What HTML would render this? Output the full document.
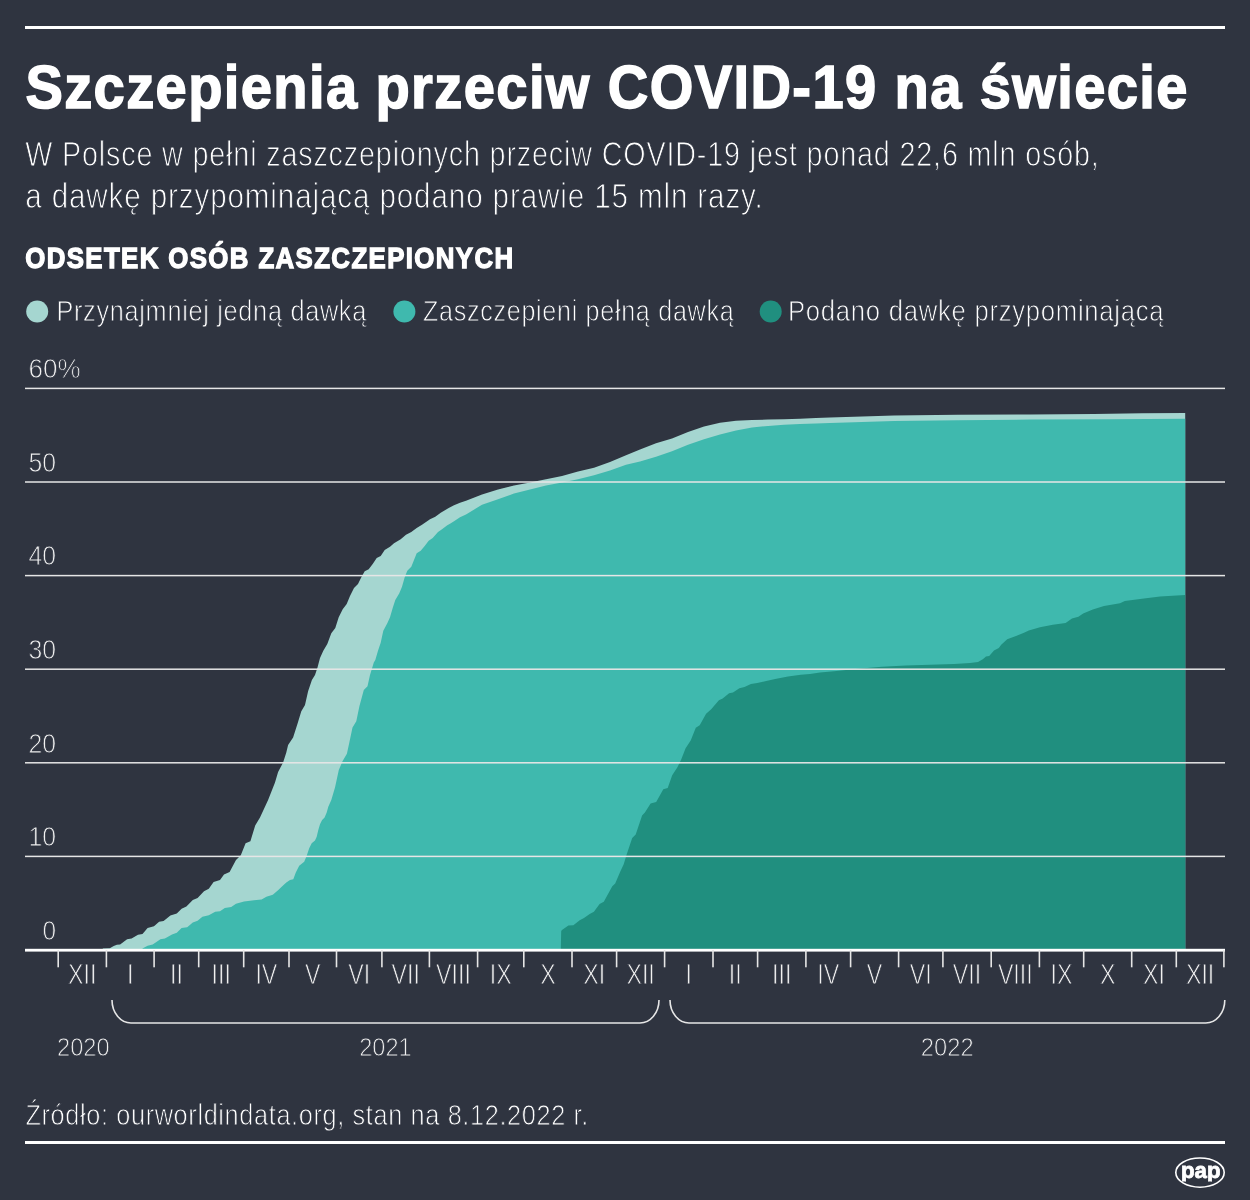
<!DOCTYPE html>
<html lang="pl">
<head>
<meta charset="utf-8">
<title>Szczepienia przeciw COVID-19 na świecie</title>
<style>
html,body{margin:0;padding:0;background:#2f3440;}
body{width:1250px;height:1200px;overflow:hidden;position:relative;}
svg{position:absolute;left:0;top:0;display:block;will-change:transform;}
text{font-family:'Liberation Sans', 'DejaVu Sans', sans-serif;}
.lt{stroke:#2f3440;stroke-width:1.0px;paint-order:normal;}
.ax{stroke-width:0.85px;}
</style>
</head>
<body>
<svg width="1250" height="1200" viewBox="0 0 1250 1200">
<rect width="1250" height="1200" fill="#2f3440"/>
<rect x="25" y="26" width="1200" height="3" fill="#ffffff"/>
<rect x="25" y="1141" width="1200" height="3" fill="#ffffff"/>
<text x="25.4" y="108.0" font-size="61.5" font-weight="bold" text-anchor="start" fill="#ffffff" textLength="1163.5" lengthAdjust="spacingAndGlyphs" stroke="#ffffff" stroke-width="1.5" letter-spacing="1.5">Szczepienia przeciw COVID-19 na świecie</text>
<text x="25.2" y="166.4" font-size="34.6" font-weight="normal" text-anchor="start" fill="#ffffff" textLength="1074.5" lengthAdjust="spacingAndGlyphs" class="lt" letter-spacing="1">W Polsce w pełni zaszczepionych przeciw COVID-19 jest ponad 22,6 mln osób,</text>
<text x="25.2" y="208.4" font-size="34.6" font-weight="normal" text-anchor="start" fill="#ffffff" textLength="738.5" lengthAdjust="spacingAndGlyphs" class="lt" letter-spacing="1">a dawkę przypominającą podano prawie 15 mln razy.</text>
<text x="25.2" y="268.2" font-size="29.5" font-weight="bold" text-anchor="start" fill="#ffffff" textLength="489.3" lengthAdjust="spacingAndGlyphs" stroke="#ffffff" stroke-width="1.3" letter-spacing="1.6">ODSETEK OSÓB ZASZCZEPIONYCH</text>
<circle cx="37.2" cy="311.5" r="11" fill="#a5d6d0"/>
<circle cx="404.4" cy="311.5" r="11" fill="#3fb9ae"/>
<circle cx="770.7" cy="311.5" r="11" fill="#208f7f"/>
<text x="56.4" y="321.3" font-size="29.0" font-weight="normal" text-anchor="start" fill="#ffffff" textLength="310.6" lengthAdjust="spacingAndGlyphs" class="lt ax" letter-spacing="0.8">Przynajmniej jedną dawką</text>
<text x="423.0" y="321.3" font-size="29.0" font-weight="normal" text-anchor="start" fill="#ffffff" textLength="311.3" lengthAdjust="spacingAndGlyphs" class="lt ax" letter-spacing="0.8">Zaszczepieni pełną dawką</text>
<text x="788.0" y="321.3" font-size="29.0" font-weight="normal" text-anchor="start" fill="#ffffff" textLength="376.3" lengthAdjust="spacingAndGlyphs" class="lt ax" letter-spacing="0.8">Podano dawkę przypominającą</text>
<path d="M102.8 950.0 L102.8 948.6 L109.8 948.3 L113.7 946.0 L116.9 944.8 L120.1 944.6 L127.1 939.3 L131.6 938.4 L138.0 934.8 L142.5 933.9 L147.6 928.1 L154.0 926.2 L159.1 921.7 L163.6 920.9 L170.4 915.5 L176.8 913.6 L181.6 908.8 L186.4 906.4 L192.8 900.0 L197.6 897.9 L204.0 891.2 L208.8 888.8 L213.6 881.9 L220.0 880.0 L224.0 874.4 L229.6 872.0 L236.0 860.0 L240.8 855.2 L245.6 843.2 L250.4 841.3 L255.2 825.6 L260.0 817.6 L268.1 800.0 L275.0 782.5 L278.1 771.9 L283.1 762.5 L286.3 752.5 L288.1 745.0 L293.1 737.5 L297.5 723.8 L301.3 711.3 L305.0 705.0 L308.1 691.3 L311.9 680.0 L315.0 675.0 L317.5 667.5 L320.0 658.0 L323.3 650.7 L327.3 644.0 L331.3 633.3 L335.3 628.0 L338.7 617.3 L342.7 609.3 L346.7 604.0 L350.0 596.0 L354.0 588.0 L358.0 584.0 L361.3 577.3 L364.7 571.3 L368.7 569.3 L372.7 564.0 L376.7 558.0 L380.7 556.0 L384.7 550.0 L390.0 546.7 L394.0 543.3 L400.7 539.3 L406.0 534.7 L411.3 532.0 L416.7 528.0 L422.0 524.7 L430.0 519.3 L435.3 516.7 L440.7 512.7 L448.7 508.0 L454.0 505.3 L460.0 502.7 L466.0 500.8 L482.0 494.4 L498.0 489.6 L514.0 485.6 L530.0 482.4 L546.0 479.2 L562.0 476.0 L578.0 471.5 L594.0 467.7 L610.0 461.9 L626.0 455.2 L640.0 449.6 L656.0 443.2 L672.0 438.4 L688.0 432.0 L704.0 426.4 L720.0 422.7 L736.0 420.8 L752.0 420.0 L768.0 419.5 L784.0 419.2 L800.0 418.7 L816.0 417.9 L830.0 417.4 L894.0 415.5 L958.0 414.8 L1030.0 414.4 L1094.0 413.9 L1142.0 413.2 L1185.2 412.9 L1185.2 950.0 Z" fill="#a5d6d0"/>
<path d="M142.5 950.0 L142.5 948.6 L147.6 945.7 L152.7 944.6 L160.4 939.3 L164.9 938.4 L172.0 934.4 L176.8 932.8 L181.6 928.0 L187.2 927.2 L192.8 922.4 L197.6 920.8 L202.4 916.8 L208.8 915.2 L215.2 911.7 L220.0 911.2 L224.8 908.0 L231.2 906.9 L236.0 903.7 L244.0 901.6 L252.0 900.5 L261.6 899.5 L266.4 896.8 L272.8 894.7 L278.3 890.0 L281.7 886.7 L286.3 882.5 L290.0 880.0 L293.3 879.2 L295.8 872.5 L299.2 865.8 L301.7 863.8 L304.2 861.7 L306.7 855.8 L309.2 848.3 L311.7 843.3 L315.0 840.4 L316.7 836.7 L318.3 830.0 L320.0 824.2 L322.1 820.0 L324.6 817.5 L326.7 812.5 L328.3 806.7 L331.3 800.0 L335.0 787.5 L338.8 770.0 L342.5 761.3 L346.9 753.8 L348.8 745.0 L352.5 727.5 L356.3 721.3 L359.4 706.3 L363.8 690.0 L367.5 686.3 L370.0 675.0 L373.8 662.5 L375.3 660.0 L378.0 650.7 L380.7 642.7 L383.3 630.7 L387.3 623.3 L390.0 617.3 L392.7 608.0 L395.3 600.0 L399.3 593.3 L402.0 586.7 L404.7 577.3 L407.3 570.7 L411.3 566.7 L414.0 560.0 L416.7 553.3 L420.7 550.7 L424.7 546.0 L428.7 540.7 L432.7 538.0 L438.0 532.0 L442.0 529.3 L447.3 525.3 L450.0 523.7 L454.0 521.3 L460.0 517.3 L466.0 514.4 L482.0 504.8 L498.0 499.2 L514.0 493.6 L530.0 489.6 L546.0 485.6 L562.0 482.4 L578.0 479.2 L594.0 475.2 L610.0 470.4 L626.0 464.8 L640.0 461.6 L656.0 456.8 L672.0 451.2 L688.0 444.8 L704.0 439.2 L720.0 434.4 L736.0 430.4 L752.0 427.5 L768.0 425.9 L784.0 424.8 L800.0 424.0 L816.0 423.4 L830.0 423.0 L894.0 421.1 L958.0 420.3 L1030.0 419.6 L1110.0 419.3 L1185.2 418.7 L1185.2 950.0 Z" fill="#3fb9ae"/>
<path d="M560.8 950.0 L560.8 950.0 L561.2 931.0 L562.0 930.1 L568.4 925.6 L573.4 925.2 L579.7 920.2 L584.0 918.1 L589.7 913.9 L593.9 911.7 L599.6 903.9 L603.8 901.8 L612.3 886.2 L615.2 883.4 L620.1 872.1 L623.7 864.3 L626.5 855.1 L632.2 838.1 L635.7 834.5 L642.1 815.4 L644.9 812.6 L650.6 803.4 L656.2 802.0 L663.3 789.2 L667.7 788.0 L672.2 775.2 L677.3 767.5 L681.1 759.8 L685.6 748.3 L690.7 740.6 L695.8 727.8 L699.7 725.3 L706.1 713.8 L711.2 709.3 L718.9 700.3 L722.7 698.4 L729.1 693.3 L733.0 692.6 L739.4 688.2 L744.5 686.9 L750.9 684.1 L757.3 683.0 L766.2 681.1 L775.2 678.9 L788.0 676.6 L800.8 674.7 L810.0 674.1 L820.0 672.5 L834.0 671.2 L858.0 668.8 L882.0 666.7 L906.0 665.6 L930.0 664.8 L954.0 664.0 L970.0 662.9 L978.0 661.9 L982.8 659.2 L986.0 656.5 L989.2 656.0 L994.0 650.4 L998.8 648.0 L1001.2 644.8 L1007.2 639.2 L1016.0 636.0 L1024.0 632.8 L1028.8 630.4 L1040.0 627.2 L1052.8 624.8 L1065.6 622.9 L1072.0 618.4 L1078.4 616.8 L1083.2 613.6 L1092.8 609.6 L1104.0 605.9 L1120.0 603.2 L1124.8 601.1 L1144.0 598.4 L1160.0 596.5 L1185.1 594.9 L1185.2 950.0 Z" fill="#208f7f"/>
<rect x="25" y="855.65" width="1200" height="1.5" fill="#e6e6e6"/>
<rect x="25" y="762.05" width="1200" height="1.5" fill="#e6e6e6"/>
<rect x="25" y="668.45" width="1200" height="1.5" fill="#e6e6e6"/>
<rect x="25" y="574.85" width="1200" height="1.5" fill="#e6e6e6"/>
<rect x="25" y="481.25" width="1200" height="1.5" fill="#e6e6e6"/>
<rect x="25" y="387.65" width="1200" height="1.5" fill="#e6e6e6"/>
<rect x="25" y="948.8" width="1200" height="2.8" fill="#ffffff"/>
<rect x="57.40" y="950" width="1.6" height="17.3" fill="#e6e6e6"/>
<rect x="105.60" y="950" width="1.6" height="17.3" fill="#e6e6e6"/>
<rect x="153.30" y="950" width="1.6" height="17.3" fill="#e6e6e6"/>
<rect x="197.90" y="950" width="1.6" height="17.3" fill="#e6e6e6"/>
<rect x="242.90" y="950" width="1.6" height="17.3" fill="#e6e6e6"/>
<rect x="288.20" y="950" width="1.6" height="17.3" fill="#e6e6e6"/>
<rect x="335.70" y="950" width="1.6" height="17.3" fill="#e6e6e6"/>
<rect x="381.10" y="950" width="1.6" height="17.3" fill="#e6e6e6"/>
<rect x="428.60" y="950" width="1.6" height="17.3" fill="#e6e6e6"/>
<rect x="476.80" y="950" width="1.6" height="17.3" fill="#e6e6e6"/>
<rect x="523.00" y="950" width="1.6" height="17.3" fill="#e6e6e6"/>
<rect x="571.20" y="950" width="1.6" height="17.3" fill="#e6e6e6"/>
<rect x="615.80" y="950" width="1.6" height="17.3" fill="#e6e6e6"/>
<rect x="663.80" y="950" width="1.6" height="17.3" fill="#e6e6e6"/>
<rect x="712.20" y="950" width="1.6" height="17.3" fill="#e6e6e6"/>
<rect x="756.80" y="950" width="1.6" height="17.3" fill="#e6e6e6"/>
<rect x="805.10" y="950" width="1.6" height="17.3" fill="#e6e6e6"/>
<rect x="849.80" y="950" width="1.6" height="17.3" fill="#e6e6e6"/>
<rect x="897.80" y="950" width="1.6" height="17.3" fill="#e6e6e6"/>
<rect x="942.10" y="950" width="1.6" height="17.3" fill="#e6e6e6"/>
<rect x="990.40" y="950" width="1.6" height="17.3" fill="#e6e6e6"/>
<rect x="1038.60" y="950" width="1.6" height="17.3" fill="#e6e6e6"/>
<rect x="1082.90" y="950" width="1.6" height="17.3" fill="#e6e6e6"/>
<rect x="1130.90" y="950" width="1.6" height="17.3" fill="#e6e6e6"/>
<rect x="1175.50" y="950" width="1.6" height="17.3" fill="#e6e6e6"/>
<rect x="1223.10" y="950" width="1.6" height="17.3" fill="#e6e6e6"/>
<text x="56.0" y="939.8" font-size="27.8" font-weight="normal" text-anchor="end" fill="#f0f0f0" textLength="13.6" lengthAdjust="spacingAndGlyphs" class="lt ax">0</text>
<text x="56.0" y="846.2" font-size="27.8" font-weight="normal" text-anchor="end" fill="#f0f0f0" textLength="27.6" lengthAdjust="spacingAndGlyphs" class="lt ax">10</text>
<text x="56.0" y="752.6" font-size="27.8" font-weight="normal" text-anchor="end" fill="#f0f0f0" textLength="27.6" lengthAdjust="spacingAndGlyphs" class="lt ax">20</text>
<text x="56.0" y="659.0" font-size="27.8" font-weight="normal" text-anchor="end" fill="#f0f0f0" textLength="27.6" lengthAdjust="spacingAndGlyphs" class="lt ax">30</text>
<text x="56.0" y="565.4" font-size="27.8" font-weight="normal" text-anchor="end" fill="#f0f0f0" textLength="27.6" lengthAdjust="spacingAndGlyphs" class="lt ax">40</text>
<text x="56.0" y="471.8" font-size="27.8" font-weight="normal" text-anchor="end" fill="#f0f0f0" textLength="27.6" lengthAdjust="spacingAndGlyphs" class="lt ax">50</text>
<text x="28.4" y="378.0" font-size="27.8" font-weight="normal" text-anchor="start" fill="#f0f0f0" textLength="52.2" lengthAdjust="spacingAndGlyphs" class="lt ax">60%</text>
<g transform="translate(82.30 984) scale(0.785 1)"><text x="0.0" y="0.0" font-size="29.6" font-weight="normal" text-anchor="middle" fill="#f0f0f0" class="lt ax">XII</text></g>
<g transform="translate(130.25 984) scale(0.785 1)"><text x="0.0" y="0.0" font-size="29.6" font-weight="normal" text-anchor="middle" fill="#f0f0f0" class="lt ax">I</text></g>
<g transform="translate(176.40 984) scale(0.785 1)"><text x="0.0" y="0.0" font-size="29.6" font-weight="normal" text-anchor="middle" fill="#f0f0f0" class="lt ax">II</text></g>
<g transform="translate(221.20 984) scale(0.785 1)"><text x="0.0" y="0.0" font-size="29.6" font-weight="normal" text-anchor="middle" fill="#f0f0f0" class="lt ax">III</text></g>
<g transform="translate(266.35 984) scale(0.785 1)"><text x="0.0" y="0.0" font-size="29.6" font-weight="normal" text-anchor="middle" fill="#f0f0f0" class="lt ax">IV</text></g>
<g transform="translate(312.75 984) scale(0.785 1)"><text x="0.0" y="0.0" font-size="29.6" font-weight="normal" text-anchor="middle" fill="#f0f0f0" class="lt ax">V</text></g>
<g transform="translate(359.20 984) scale(0.785 1)"><text x="0.0" y="0.0" font-size="29.6" font-weight="normal" text-anchor="middle" fill="#f0f0f0" class="lt ax">VI</text></g>
<g transform="translate(405.65 984) scale(0.785 1)"><text x="0.0" y="0.0" font-size="29.6" font-weight="normal" text-anchor="middle" fill="#f0f0f0" class="lt ax">VII</text></g>
<g transform="translate(453.50 984) scale(0.785 1)"><text x="0.0" y="0.0" font-size="29.6" font-weight="normal" text-anchor="middle" fill="#f0f0f0" class="lt ax">VIII</text></g>
<g transform="translate(500.70 984) scale(0.785 1)"><text x="0.0" y="0.0" font-size="29.6" font-weight="normal" text-anchor="middle" fill="#f0f0f0" class="lt ax">IX</text></g>
<g transform="translate(547.90 984) scale(0.785 1)"><text x="0.0" y="0.0" font-size="29.6" font-weight="normal" text-anchor="middle" fill="#f0f0f0" class="lt ax">X</text></g>
<g transform="translate(594.30 984) scale(0.785 1)"><text x="0.0" y="0.0" font-size="29.6" font-weight="normal" text-anchor="middle" fill="#f0f0f0" class="lt ax">XI</text></g>
<g transform="translate(640.60 984) scale(0.785 1)"><text x="0.0" y="0.0" font-size="29.6" font-weight="normal" text-anchor="middle" fill="#f0f0f0" class="lt ax">XII</text></g>
<g transform="translate(688.80 984) scale(0.785 1)"><text x="0.0" y="0.0" font-size="29.6" font-weight="normal" text-anchor="middle" fill="#f0f0f0" class="lt ax">I</text></g>
<g transform="translate(735.30 984) scale(0.785 1)"><text x="0.0" y="0.0" font-size="29.6" font-weight="normal" text-anchor="middle" fill="#f0f0f0" class="lt ax">II</text></g>
<g transform="translate(781.75 984) scale(0.785 1)"><text x="0.0" y="0.0" font-size="29.6" font-weight="normal" text-anchor="middle" fill="#f0f0f0" class="lt ax">III</text></g>
<g transform="translate(828.25 984) scale(0.785 1)"><text x="0.0" y="0.0" font-size="29.6" font-weight="normal" text-anchor="middle" fill="#f0f0f0" class="lt ax">IV</text></g>
<g transform="translate(874.60 984) scale(0.785 1)"><text x="0.0" y="0.0" font-size="29.6" font-weight="normal" text-anchor="middle" fill="#f0f0f0" class="lt ax">V</text></g>
<g transform="translate(920.75 984) scale(0.785 1)"><text x="0.0" y="0.0" font-size="29.6" font-weight="normal" text-anchor="middle" fill="#f0f0f0" class="lt ax">VI</text></g>
<g transform="translate(967.05 984) scale(0.785 1)"><text x="0.0" y="0.0" font-size="29.6" font-weight="normal" text-anchor="middle" fill="#f0f0f0" class="lt ax">VII</text></g>
<g transform="translate(1015.30 984) scale(0.785 1)"><text x="0.0" y="0.0" font-size="29.6" font-weight="normal" text-anchor="middle" fill="#f0f0f0" class="lt ax">VIII</text></g>
<g transform="translate(1061.55 984) scale(0.785 1)"><text x="0.0" y="0.0" font-size="29.6" font-weight="normal" text-anchor="middle" fill="#f0f0f0" class="lt ax">IX</text></g>
<g transform="translate(1107.70 984) scale(0.785 1)"><text x="0.0" y="0.0" font-size="29.6" font-weight="normal" text-anchor="middle" fill="#f0f0f0" class="lt ax">X</text></g>
<g transform="translate(1154.00 984) scale(0.785 1)"><text x="0.0" y="0.0" font-size="29.6" font-weight="normal" text-anchor="middle" fill="#f0f0f0" class="lt ax">XI</text></g>
<g transform="translate(1200.10 984) scale(0.785 1)"><text x="0.0" y="0.0" font-size="29.6" font-weight="normal" text-anchor="middle" fill="#f0f0f0" class="lt ax">XII</text></g>
<path d="M112 1000 A19 23 0 0 0 131 1023 L640 1023 A19 23 0 0 0 659 1000" fill="none" stroke="#e6e6e6" stroke-width="1.6"/>
<path d="M670 1000 A19 23 0 0 0 689 1023 L1205.8 1023 A19 23 0 0 0 1224.8 1000" fill="none" stroke="#e6e6e6" stroke-width="1.6"/>
<text x="57.0" y="1056.0" font-size="26.0" font-weight="normal" text-anchor="start" fill="#f0f0f0" textLength="52.6" lengthAdjust="spacingAndGlyphs" class="lt ax">2020</text>
<text x="359.2" y="1056.0" font-size="26.0" font-weight="normal" text-anchor="start" fill="#f0f0f0" textLength="52.4" lengthAdjust="spacingAndGlyphs" class="lt ax">2021</text>
<text x="920.8" y="1056.0" font-size="26.0" font-weight="normal" text-anchor="start" fill="#f0f0f0" textLength="52.8" lengthAdjust="spacingAndGlyphs" class="lt ax">2022</text>
<text x="25.4" y="1124.6" font-size="28.6" font-weight="normal" text-anchor="start" fill="#ffffff" textLength="563.5" lengthAdjust="spacingAndGlyphs" class="lt ax" letter-spacing="0.7">Źródło: ourworldindata.org, stan na 8.12.2022 r.</text>
<ellipse cx="1200" cy="1172.6" rx="24.2" ry="14.6" fill="none" stroke="#ffffff" stroke-width="1.6"/>
<clipPath id="papc"><rect x="1170" y="1155" width="60" height="26.6"/></clipPath>
<g clip-path="url(#papc)"><text x="1200.8" y="1178.4" font-size="22.5" font-weight="bold" text-anchor="middle" fill="#ffffff" textLength="39.5" lengthAdjust="spacingAndGlyphs" stroke="#ffffff" stroke-width="0.8">pap</text></g>
</svg>
</body>
</html>
